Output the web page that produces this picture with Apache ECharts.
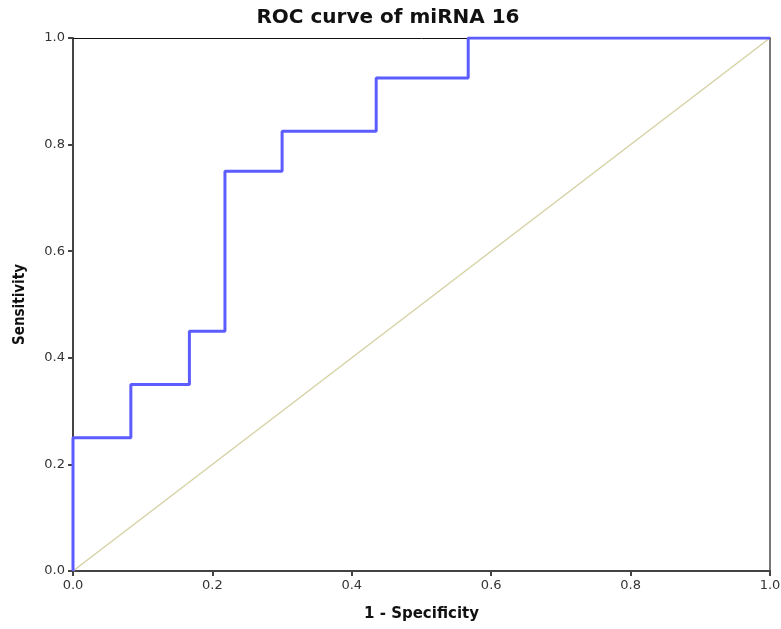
<!DOCTYPE html>
<html>
<head>
<meta charset="utf-8">
<script src="https://cdn.jsdelivr.net/npm/echarts@6/dist/echarts.min.js"></script>
<style>
html, body { margin: 0; padding: 0; background: #fff; }
#roc-chart { width: 781px; height: 629px; }
</style>
</head>
<body>
<div id="roc-chart"></div>
<script>
// ROC curve points (1 - specificity, sensitivity)
var fpr = [0, 0, 0.083, 0.083, 0.167, 0.167, 0.218, 0.218, 0.30, 0.30, 0.435, 0.435, 0.567, 0.567, 1];
var tpr = [0, 0.25, 0.25, 0.35, 0.35, 0.45, 0.45, 0.75, 0.75, 0.825, 0.825, 0.925, 0.925, 1, 1];
var refX = [0, 1];
var refY = [0, 1];
var ticks = [0, 0.2, 0.4, 0.6, 0.8, 1];

var rocData = fpr.map(function (x, i) { return [x, tpr[i]]; });
var refData = refX.map(function (x, i) { return [x, refY[i]]; });

var dom = document.getElementById("roc-chart");
var myChart = echarts.init(dom);
var fmt = function (v) { return v.toFixed(1); };
var option = {
    backgroundColor: "#fff",
    animation: false,
    title: {
        text: "ROC curve of miRNA 16",
        left: "383",
        textAlign: "center",
        top: 3,
        textStyle: { fontFamily: "DejaVu Sans", fontSize: 20, fontWeight: "bold", color: "#111" }
    },
    grid: { left: 73, right: 11, top: 38, bottom: 58, outerBoundsMode: "none" },
    xAxis: [{
        type: "value",
        min: 0,
        max: 1,
        interval: ticks[1] - ticks[0],
        name: "1 - Specificity",
        nameLocation: "middle",
        nameGap: 36,
        nameTextStyle: { fontFamily: "DejaVu Sans", fontSize: 15, fontWeight: "bold", color: "#111" },
        axisLine: { onZero: false, lineStyle: { color: "#444", width: 2 } },
        axisTick: { show: true, length: 5, lineStyle: { color: "#444", width: 2 } },
        axisLabel: { formatter: fmt, margin: 8, fontFamily: "DejaVu Sans", fontSize: 13, color: "#333" },
        splitLine: { show: false }
    }, {
        type: "value",
        position: "top",
        min: 0,
        max: 1,
        axisLine: { show: true, onZero: false, lineStyle: { color: "#111", width: 1 } },
        axisTick: { show: false },
        axisLabel: { show: false },
        splitLine: { show: false }
    }],
    yAxis: [{
        type: "value",
        min: 0,
        max: 1,
        interval: ticks[1] - ticks[0],
        name: "Sensitivity",
        nameLocation: "middle",
        nameGap: 45,
        nameTextStyle: { fontFamily: "DejaVu Sans Condensed", fontSize: 15, fontWeight: "bold", color: "#111" },
        axisLine: { onZero: false, lineStyle: { color: "#444", width: 2 } },
        axisTick: { show: true, length: 5, lineStyle: { color: "#444", width: 2 } },
        axisLabel: { formatter: fmt, margin: 8, fontFamily: "DejaVu Sans", fontSize: 13, color: "#333" },
        splitLine: { show: false }
    }, {
        type: "value",
        position: "right",
        min: 0,
        max: 1,
        axisLine: { show: true, onZero: false, lineStyle: { color: "#777", width: 2 } },
        axisTick: { show: false },
        axisLabel: { show: false },
        splitLine: { show: false }
    }],
    series: [{
        name: "Reference",
        type: "line",
        data: refData,
        symbol: "none",
        lineStyle: { color: "#d6d2a6", width: 1.5 },
        z: 2
    }, {
        name: "miRNA 16",
        type: "line",
        data: rocData,
        symbol: "none",
        lineStyle: { color: "#5c5cff", width: 3 },
        z: 3
    }]
};
option && "object" == typeof option && myChart.setOption(option, true);
</script>
</body>
</html>
